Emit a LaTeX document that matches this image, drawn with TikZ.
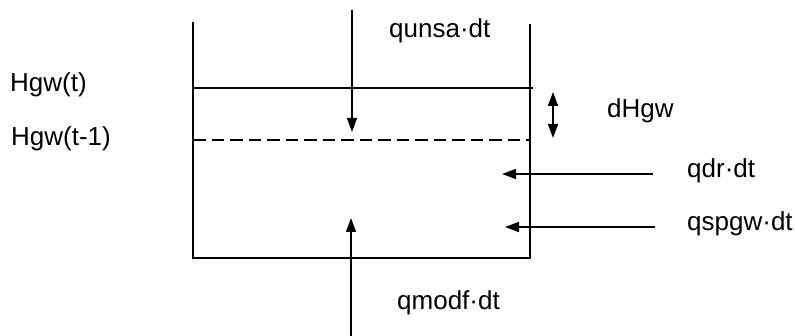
\documentclass[tikz,border=0pt]{standalone}
\usepackage{fontspec}
\setmainfont{Liberation Sans}
\usetikzlibrary{arrows.meta}
\begin{document}
\begin{tikzpicture}[x=1pt,y=-1pt,
  wall/.style={line width=1.9pt},
  tip/.tip={Triangle[length=14pt,width=10pt]},
  flow/.style={line width=1.6pt,-tip},
  lbl/.style={anchor=base west,inner sep=0pt,font=\fontsize{26}{30}\selectfont}]
\useasboundingbox (0,0) rectangle (795,336);
% tank
\coordinate (lt) at (193,22);
\coordinate (lb) at (193,258);
\coordinate (rb) at (530,258);
\coordinate (rt) at (530,24);
\draw[wall] (lt) -- (lb) -- (rb) -- (rt);
% levels
\coordinate (hl) at (193,88);
\coordinate (hr) at (533,88);
\draw[wall] (hl) -- (hr);
\coordinate (dl) at (193,140);
\coordinate (dr) at (530,140);
\draw[wall,dash pattern=on 12.5pt off 6pt] (dl) -- (dr);
% flows
\coordinate (u1) at (352,10);
\coordinate (u2) at (352,132);
\draw[flow] (u1) -- (u2);
\coordinate (d1) at (553,92);
\coordinate (d2) at (553,138);
\draw[flow,tip-tip] (d1) -- (d2);
\coordinate (q1) at (653,174);
\coordinate (q2) at (502,174);
\draw[flow] (q1) -- (q2);
\coordinate (s1) at (655,227);
\coordinate (s2) at (505,227);
\draw[flow] (s1) -- (s2);
\coordinate (m1) at (351,336);
\coordinate (m2) at (351,218);
\draw[flow] (m1) -- (m2);
% labels
\node[lbl] (tqunsa) at (389,38) {qunsa·dt};
\node[lbl] (thgwt) at (10,92) {Hgw(t)};
\node[lbl] (thgwt1) at (11,146) {Hgw(t-1)};
\node[lbl] (tdhgw) at (607,118) {dHgw};
\node[lbl] (tqdr) at (687,178) {qdr·dt};
\node[lbl] (tqspgw) at (687,231) {qspgw·dt};
\node[lbl] (tqmodf) at (397,310) {qmodf·dt};
\end{tikzpicture}
\end{document}
